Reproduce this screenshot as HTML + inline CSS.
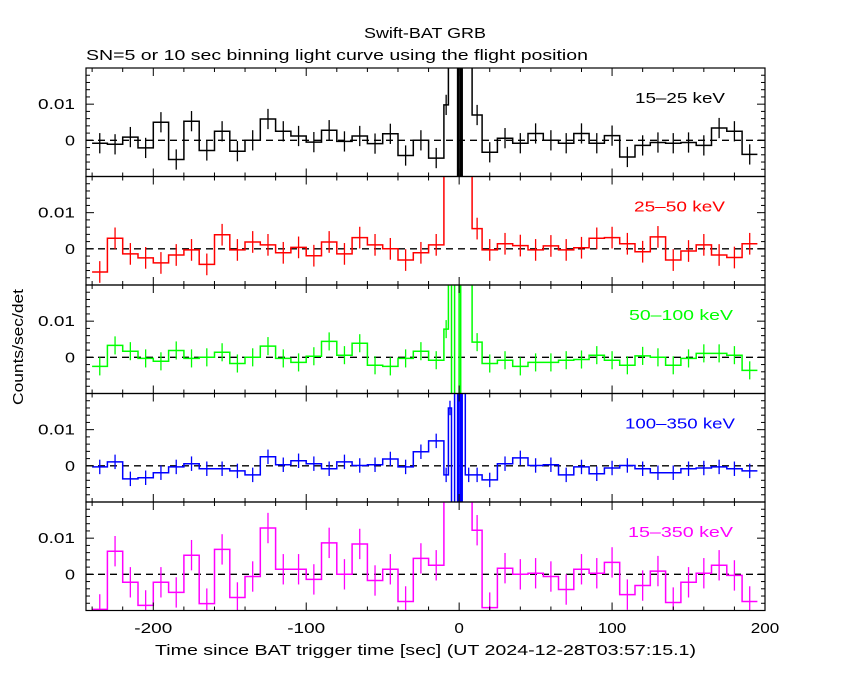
<!DOCTYPE html>
<html><head><meta charset="utf-8"><style>
body{margin:0;background:#fff;}
svg text{font-family:"Liberation Sans",sans-serif;}
</style></head><body>
<svg id="chart" width="850" height="680" xmlns="http://www.w3.org/2000/svg">
<rect width="850" height="680" fill="#fff"/>
<text x="364" y="38" font-size="15" textLength="122" lengthAdjust="spacingAndGlyphs">Swift-BAT GRB</text>
<text x="86" y="60" font-size="15" textLength="502" lengthAdjust="spacingAndGlyphs">SN=5 or 10 sec binning light curve using the flight position</text>
<text transform="translate(23,347) rotate(-90)" font-size="15" text-anchor="middle" textLength="116" lengthAdjust="spacingAndGlyphs">Counts/sec/det</text>
<text x="155" y="655" font-size="15" textLength="541" lengthAdjust="spacingAndGlyphs">Time since BAT trigger time [sec] (UT 2024-12-28T03:57:15.1)</text>
<g id="panels"></g>
</svg>
<script>
// bin structure (seconds)
const preStart = -240, binW = 10;
const fineEdges = [-10,-7,-5,-3,-1,0,1,2,4,8.5,15];
const postStart = 15;
const bands = ["15-25 keV","25-50 keV","50-100 keV","100-350 keV","15-350 keV"];
const colors = ["#000000","#ff0000","#00ff00","#0000ff","#ff00ff"];
const errs = [2.8,3.0,2.5,2.0,4.2];
// values in units of 0.001 counts/sec/det
const pre1 = [-0.8,-1.1,0.9,-2.1,5,-5.3,5.3,-2.8,2.5,-3,0,5.9,2.5,1.2,-0.5,2.8,-0.3,1.2,-0.9,1.8,-4.2,0,-4.9];
const fine1 = [9.8,30,30,30,-30,30,-30,30,30,7];
const post1 = [-3.3,0.6,-0.8,1.9,0,-0.8,1.9,-0.8,1.3,-4.6,-1.4,-0.6,-0.8,-0.6,-1.4,3.4,2.5,-3.9];
const pre2 = [-6.4,2.9,-1.4,-2.5,-3.9,-1.7,-0.3,-4.3,3.9,-0.3,1.9,1.1,-1.1,0.4,-1.9,1.9,-1.4,3.1,1.1,0,-3.1,-1.1,1.1];
const fine2 = [30,30,30,30,30,30,30,30,30,5.6];
const post2 = [-0.3,1.4,0.9,-0.3,0.8,-0.3,0.3,2.9,3.1,1.4,-0.8,3.3,-3.1,-0.6,1.1,-1.7,-2.4,1.4];
const pre3 = [-2.5,3.3,1.7,-0.3,-1.1,1.9,-0.3,0,1.4,-1.7,0,3.1,-0.3,-1.4,0.3,4.4,0.6,3.9,-2.2,-2.5,-0.3,1.7,-0.8];
const fine3 = [7.8,30,-30,30,30,-30,30,30,30,4.2];
const post3 = [-1.7,-0.8,-2.5,-1.4,-1.4,-0.8,-0.6,0.6,-0.8,-2.2,0.4,0,-2.2,-0.3,1.1,1.1,0.6,-3.6];
const pre4 = [-0.3,1.1,-3.6,-3.3,-1.9,-0.3,0.6,-0.8,-0.8,-1.4,-2.5,2.5,0.3,1.4,0.6,-0.8,1.1,0.1,0.3,1.9,-0.3,3.9,6.9];
const fine4 = [-2.5,16,-30,30,-30,30,-30,30,-2.5,-2.5];
const post4 = [-3.9,0.6,2.2,0.1,0.3,-2.5,-0.3,-2.2,-0.6,0.1,-0.8,-1.9,-1.9,-0.8,-0.6,-0.3,-0.8,-1.4];
const pre5 = [-9.7,6.4,-2.2,-8.6,-2.2,-5,5.3,-8.1,6.9,-6.4,-0.6,12.8,1.4,1.4,-1.4,8.7,0,8.4,-1.7,1.4,-7.5,4.4,2.5];
const fine5 = [30,30,30,30,30,30,30,30,30,12.2];
const post5 = [-9.2,1.7,0,0.3,-0.6,-4.2,1.4,0.3,3.3,-5.6,-3.1,0.9,-7.8,-2.2,0.3,2.5,-0.3,-7.5];
const xTicks = [-200,-100,0,100,200];
const yTicks = [0,0.01];

const series = [[pre1,fine1,post1],[pre2,fine2,post2],[pre3,fine3,post3],[pre4,fine4,post4],[pre5,fine5,post5]];
const L=86,R=765,tMin=-244,tMax=200;
const panelTop=[68,176.5,285,393.5,502], pH=108.5;
const labX=[635,634,629,625,628], labW=[90,91,104,110,105];
const yMin=-0.01,yMax=0.02;
const X=t=>L+(t-tMin)/(tMax-tMin)*(R-L);
const NS="http://www.w3.org/2000/svg";
const root=document.getElementById('panels');
function mk(tag,attrs,parent){const e=document.createElementNS(NS,tag);for(const k in attrs)e.setAttribute(k,attrs[k]);parent.appendChild(e);return e;}
series.forEach((s,p)=>{
  const top=panelTop[p], bot=top+pH;
  const Y=v=>bot-(v-yMin)/(yMax-yMin)*pH;
  const g=mk('g',{},root);
  
  
  const cid='clip'+p;
  const cp=mk('clipPath',{id:cid},g);mk('rect',{x:L,y:top,width:R-L,height:pH},cp);
  const bins=[];
  s[0].forEach((v,i)=>bins.push([preStart+i*binW,preStart+(i+1)*binW,v/1000]));
  s[1].forEach((v,i)=>bins.push([fineEdges[i],fineEdges[i+1],v/1000]));
  s[2].forEach((v,i)=>bins.push([postStart+i*binW,postStart+(i+1)*binW,v/1000]));
  let d='';
  bins.forEach((b,i)=>{const y=Y(b[2]).toFixed(1);d+=(i?'L':'M')+X(b[0]).toFixed(1)+','+y+'L'+X(b[1]).toFixed(1)+','+y;});
  const dg=mk('g',{'clip-path':'url(#'+cid+')'},g);
  mk('line',{x1:L,x2:R,y1:Y(0),y2:Y(0),stroke:'#000','stroke-width':1.3,'stroke-dasharray':'7,5'},dg);
  const path=mk('path',{d:d,fill:'none',stroke:colors[p],'stroke-width':1.5},dg);
  
  
  bins.forEach(b=>{
    const xc=X((b[0]+b[1])/2), e=errs[p]/1000;
    const ln=mk('line',{x1:xc,x2:xc,y1:Y(b[2]+e),y2:Y(b[2]-e),stroke:colors[p],'stroke-width':1.3},dg);
    
    
  });
  mk('rect',{x:L,y:top,width:R-L,height:pH,fill:'none',stroke:'#000','stroke-width':1.2},g);
  for(let t=-240;t<=200;t+=20){const x=X(t);const major=t%100===0;const len=major?8:4;
    mk('line',{x1:x,x2:x,y1:bot,y2:bot-len,stroke:'#000','stroke-width':1},g);
    mk('line',{x1:x,x2:x,y1:top,y2:top+len,stroke:'#000','stroke-width':1},g);}
  for(let k=-5;k<=10;k++){const v=k*0.002;if(v<yMin-1e-9||v>yMax+1e-9)continue;const y=Y(v);const major=k%5===0;const len=major?8:4;
    mk('line',{x1:L,x2:L+len,y1:y,y2:y,stroke:'#000','stroke-width':1},g);
    mk('line',{x1:R,x2:R-len,y1:y,y2:y,stroke:'#000','stroke-width':1},g);}
  yTicks.forEach(v=>{
    const t = v===0 ? mk('text',{x:65,y:Y(v)+5,'font-size':15,textLength:10,lengthAdjust:'spacingAndGlyphs'},g)
                    : mk('text',{x:38,y:Y(v)+5,'font-size':15,textLength:37,lengthAdjust:'spacingAndGlyphs'},g);
    t.textContent=(v===0?'0':'0.01');
    
    });
  const lab=mk('text',{x:labX[p],y:top+35,'font-size':15,fill:colors[p],textLength:labW[p],lengthAdjust:'spacingAndGlyphs'},g);
  lab.textContent=bands[p].replace('-','\u2013');
  
  
});
xTicks.forEach(t=>{const s=String(t);const w=s.length*9.5;
  const tx=mk('text',{x:X(t)-w/2,y:633,'font-size':15,textLength:w,lengthAdjust:'spacingAndGlyphs'},root);tx.textContent=s;
  
  });
</script>
</body></html>
